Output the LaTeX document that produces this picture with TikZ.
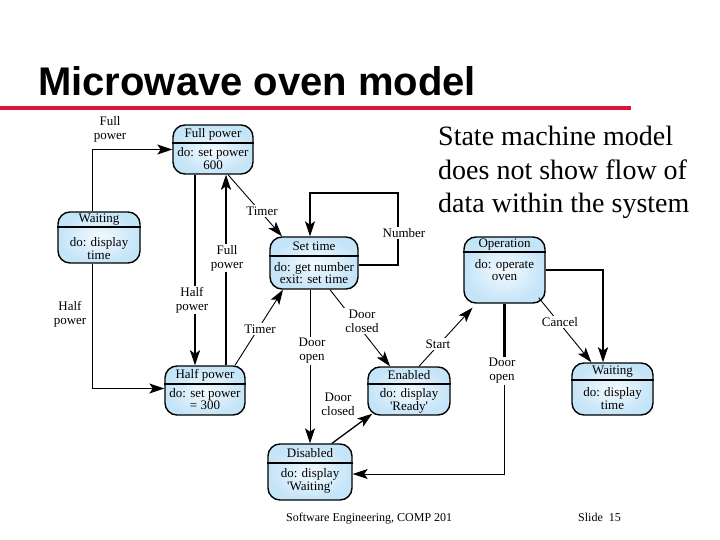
\documentclass[tikz,border=0pt]{standalone}
\usepackage{fontspec}
\setmainfont{Liberation Serif}
\newfontfamily\titlefont{Liberation Sans}
\usetikzlibrary{arrows.meta}
\definecolor{redbar}{RGB}{220,20,60}
\definecolor{stin}{RGB}{244,250,254}
\definecolor{stout}{RGB}{196,228,248}
\tikzset{
 st/.style={draw, line width=1.4pt, rounded corners=12pt, inner color=stin, outer color=stout, inner sep=0pt},
 divl/.style={line width=1.2pt},
 lab/.style={font=\fontsize{13}{14}\selectfont, align=center, inner sep=1pt},
 elab/.style={lab, fill=white, inner sep=1.5pt},
 thinl/.style={line width=0.9pt},
 thickl/.style={line width=2.4pt},
 arr/.style={-{Stealth[length=15pt,width=10pt,inset=3.5pt]}},
}
% name, cx, cy, w, h, divider y, header, body, body centre y
\newcommand\smstate[9]{%
 \node[st, minimum width=#4pt, minimum height=#5pt] (#1) at (#2,#3) {};
 \coordinate (#1d) at (#2,#6);
 \draw[divl] (#1.west |- #1d) -- (#1.east |- #1d);
 \node[lab] (#1h) at ({#2},{(#3-#5/2+#6)/2}) {#7};
 \node[lab,font=\fontsize{13}{12.5}\selectfont] (#1b) at (#2,#9) {#8};
}
\begin{document}
\begin{tikzpicture}[x=1pt,y=-1pt]
\useasboundingbox (0,0) rectangle (720,540);
% title
\node[anchor=base west, font=\titlefont\bfseries\fontsize{40}{40}\selectfont, inner sep=0pt] (title) at (38,96) {Microwave oven model};
\draw[redbar, line width=4.5pt] (0,108) -- (631,108);
% side text
\node[anchor=base west, font=\fontsize{28}{33}\selectfont, inner sep=0pt] (t1) at (438,146) {State machine model};
\node[anchor=base west, font=\fontsize{28}{33}\selectfont, inner sep=0pt] (t2) at (438,180) {does not show flow of};
\node[anchor=base west, font=\fontsize{28}{33}\selectfont, inner sep=0pt] (t3) at (438,213) {data within the system};
% footer
\node[anchor=base west, font=\fontsize{12}{12}\selectfont, inner sep=0pt] (f1) at (286,521) {Software Engineering, COMP 201};
\node[anchor=base west, font=\fontsize{12}{12}\selectfont, inner sep=0pt] (f2) at (578,521) {Slide\ \ 15};
% states
\smstate{fullp}{213}{149.5}{80}{49}{143}{Full power}{do: set power\\600}{158.5}
\smstate{waitL}{99}{237.5}{82}{51}{227}{Waiting}{do: display\\time}{248.5}
\smstate{settime}{314}{263}{88}{52}{256}{Set time}{do: get number\\exit: set time}{273}
\smstate{halfp}{205}{390.5}{80}{49}{384}{Half power}{do: set power\\= 300}{399}
\smstate{enabled}{409}{391}{82}{48}{384}{Enabled}{do: display\\\textquotesingle Ready\textquotesingle}{401}
\smstate{disabled}{310}{472}{84}{56}{463}{Disabled}{do: display\\\textquotesingle Waiting\textquotesingle}{481}
\smstate{oper}{504.5}{270}{81}{66}{252}{Operation}{do: operate\\oven}{270}
\smstate{waitR}{612.5}{389}{81}{52}{380}{Waiting}{do: display\\time}{398.5}
% connectors
\draw[thinl,arr] ([xshift=-7pt]waitL.north) |- (fullp.west);
\node[lab] (lfp1) at (110,129) {Full\\power};
\draw[thinl,arr] ([xshift=-7pt]waitL.south) |- ([yshift=2pt]halfp.west);
\node[lab] (lhp1) at (70,314) {Half\\power};
\draw[thickl,arr] ([xshift=-18pt]fullp.south) -- ([xshift=-18pt]fullp.south |- halfp.north);
\node[elab] (lhp2) at (192,300) {Half\\power};
\draw[thickl,arr] ([xshift=21pt]halfp.north) -- ([xshift=21pt]halfp.north |- fullp.south);
\node[elab] (lfp2) at (227,258) {Full\\power};
\draw[thinl,arr] ([xshift=15pt]fullp.south) -- ([xshift=-32pt]settime.north);
\node[elab] (lt1) at (262,211) {Timer};
\draw[thinl,arr] ([xshift=30pt]halfp.north) -- ([xshift=-31pt]settime.south);
\node[elab] (lt2) at (260,329) {Timer};
\coordinate (nA) at (398,193);
\draw[line width=1.2pt,arr] ([yshift=-2pt]settime.east) -| (nA) -| ([xshift=-4pt]settime.north);
\node[elab] (lnum) at (404,233) {Number};
\draw[thinl,arr] ([xshift=-4pt]settime.south) -- ([xshift=-4pt]settime.south |- disabled.north);
\node[elab] (ldo1) at (312,351) {Door\\open};
\draw[thinl,arr] ([xshift=16pt]settime.south) -- ([xshift=-19pt]enabled.north);
\node[elab] (ldc1) at (362,321) {Door\\closed};
\draw[line width=1.3pt,arr] ([xshift=22pt]disabled.north) -- ([xshift=5pt,yshift=2pt]enabled.south west);
\node[lab] (ldc2) at (338,404) {Door\\closed};
\draw[thinl,arr] ([xshift=10pt]enabled.north) -- ([xshift=-32pt,yshift=-4pt]oper.south);
\node[elab] (lst) at (438,344) {Start};
\draw[thickl,arr] (oper.east) -| ([xshift=-9.5pt]waitR.north);
\draw[thinl,arr] ([xshift=-7pt,yshift=6pt]oper.south east) -- ([xshift=20pt]waitR.north west);
\node[elab] (lca) at (560,322) {Cancel};
\node[lab] (ldo2) at (502,371) {Door\\open};
\draw[thickl] (oper.south) -- (oper.south |- ldo2.north);
\draw[thinl,arr] (oper.south |- ldo2.south) |- ([yshift=-2pt]disabled.east);
\end{tikzpicture}
\end{document}
